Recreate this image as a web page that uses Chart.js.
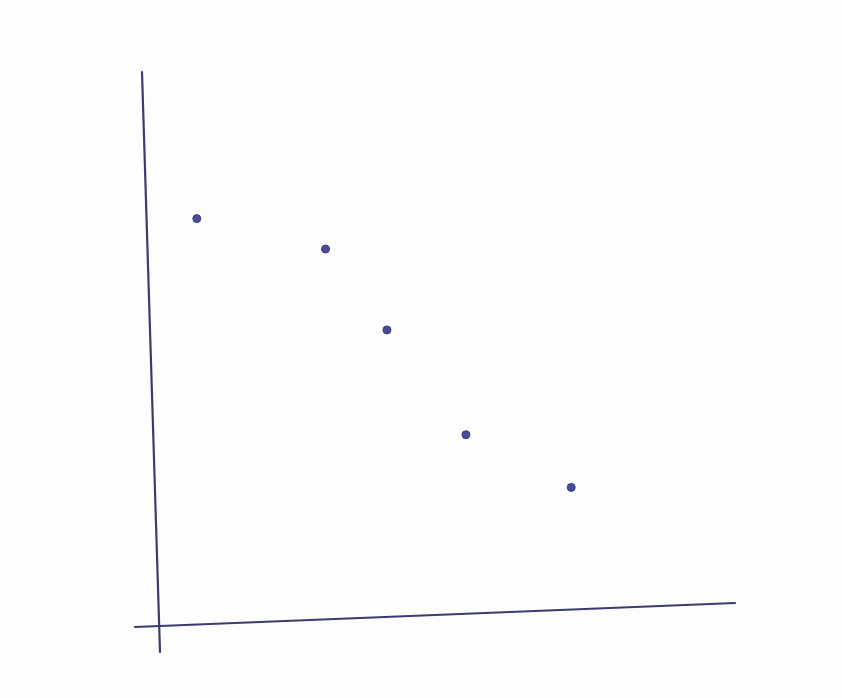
<!DOCTYPE html>
<html>
<head>
<meta charset="utf-8">
<script src="https://cdn.jsdelivr.net/npm/chart.js@4/dist/chart.umd.min.js"></script>
<style>
  html, body { margin: 0; padding: 0; background: #fdfdfd; }
  #box { width: 842px; height: 698px; }
</style>
</head>
<body>
<div id="box"><canvas id="chartOne"></canvas></div>
<script>
// values (no tick labels, so arbitrary 0-10 units)
var xValues = [0.8, 3.0, 4.05, 5.4, 7.2]
var yValues = [7.3, 6.74, 5.25, 3.32, 2.35]

var points = xValues.map(function (x, i) {
    return { x: x, y: yValues[i] }
})

// hand drawn axes, a little slanted like the pen lines
var penAxes = {
    id: "penAxes",
    beforeDatasetsDraw: function (chart) {
        var ctx = chart.ctx
        var a = chart.chartArea
        ctx.save()
        ctx.strokeStyle = "#3b3b72"
        ctx.lineWidth = 2.2
        ctx.lineCap = "round"
        // y axis
        ctx.beginPath()
        ctx.moveTo(a.left - 8, a.top)
        ctx.lineTo(a.left + 10, a.bottom + 37)
        ctx.stroke()
        // x axis
        ctx.beginPath()
        ctx.moveTo(a.left - 15, a.bottom + 12)
        ctx.lineTo(a.right, a.bottom - 12)
        ctx.stroke()
        ctx.restore()
    }
}

var getChartOne = document.getElementById("chartOne")

var chartOne = new Chart(getChartOne, {
    type: "scatter",
    data: {
        datasets: [{
            data: points,
            backgroundColor: "#4b4b9c",
            borderColor: "#3a3a80",
            borderWidth: 1,
            pointRadius: 4,
            pointHoverRadius: 4
        }]
    },
    options: {
        responsive: true,
        maintainAspectRatio: false,
        animation: false,
        layout: { padding: { left: 150, right: 107, top: 72, bottom: 83 } },
        plugins: {
            legend: { display: false },
            tooltip: { enabled: false }
        },
        scales: {
            x: { display: false, min: 0, max: 10 },
            y: { display: false, min: 0, max: 10 }
        }
    },
    plugins: [penAxes]
})
</script>
</body>
</html>
